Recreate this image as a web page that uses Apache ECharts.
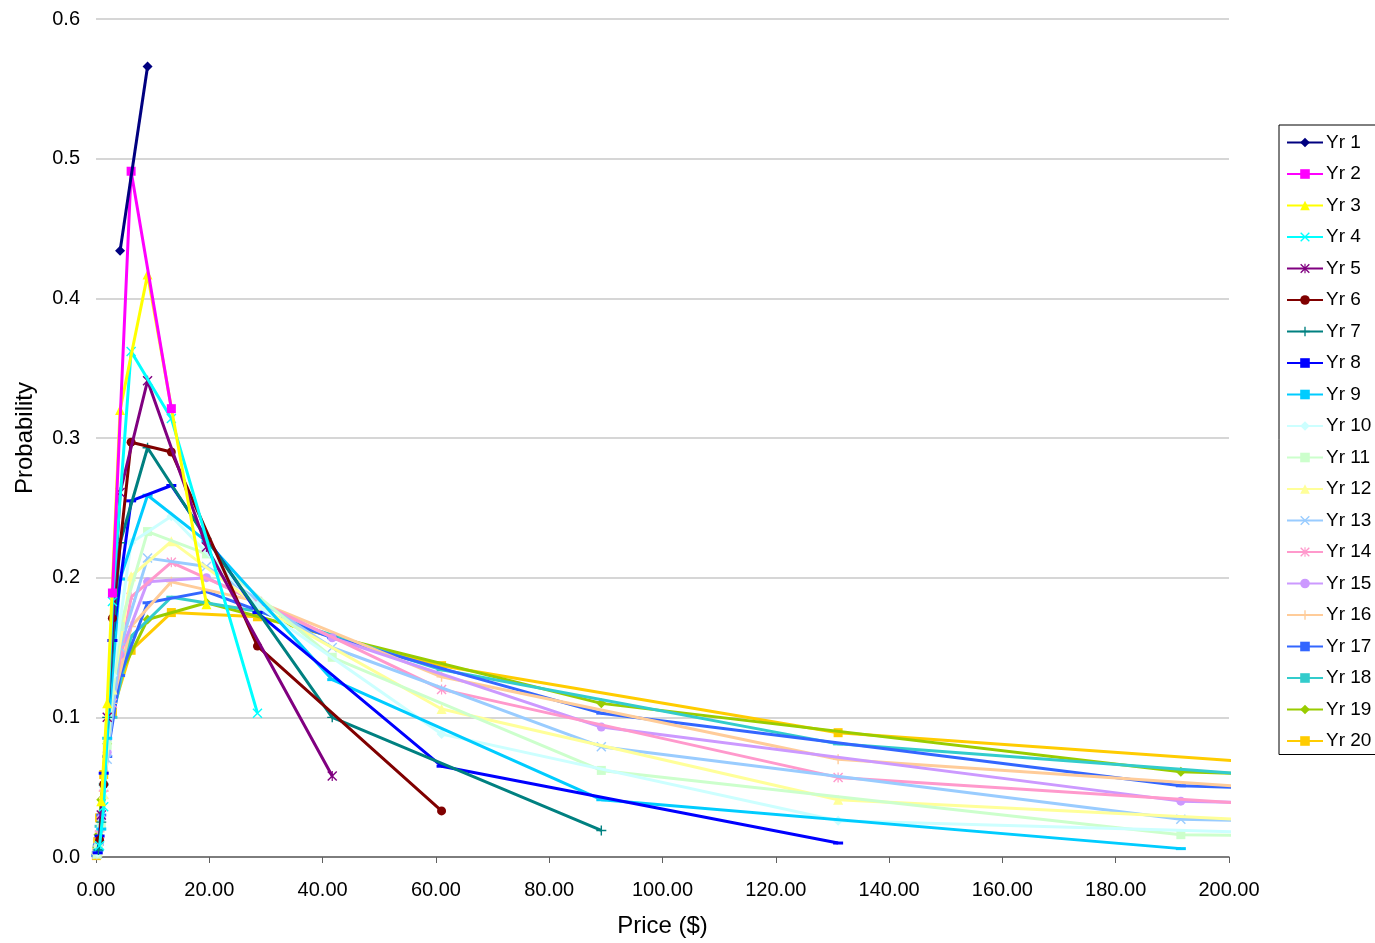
<!DOCTYPE html>
<html>
<head>
<meta charset="utf-8">
<script src="https://cdn.jsdelivr.net/npm/echarts@6/dist/echarts.min.js"></script>
<style>
  html, body { margin: 0; padding: 0; background: #fff; }
  #chart { width: 1375px; height: 943px; }
</style>
</head>
<body>
<div id="chart"></div>
<script>
// price lattices (odd years and even years sit on interleaved grids)
var xOdd  = [0.094, 0.20, 0.43, 0.93, 1.98, 4.25, 9.1, 19.5, 41.7, 89.2, 191.5, 410.8];
var xEven = [0.064, 0.14, 0.30, 0.63, 1.36, 2.9, 6.2, 13.3, 28.5, 61, 131, 281];

var yr1  = [null, null, null, null, null, 0.434, 0.566, null, null, null, null, null];
var yr2  = [null, null, null, null, null, 0.189, 0.491, 0.321, null, null, null, null];
var yr3  = [null, null, null, 0.04, 0.11, 0.320, 0.417, 0.181, null, null, null, null];
var yr4  = [null, null, null, 0.008, 0.036, 0.183, 0.362, 0.314, 0.103, null, null, null];
var yr5  = [null, null, null, 0.03, 0.10, 0.261, 0.341, 0.222, 0.058, null, null, null];
var yr6  = [null, null, null, 0.012, 0.052, 0.171, 0.297, 0.290, 0.151, 0.033, null, null];
var yr7  = [null, null, 0.005, 0.025, 0.10, 0.225, 0.293, 0.228, 0.100, 0.019, null, null];
var yr8  = [null, null, 0.003, 0.015, 0.06, 0.155, 0.255, 0.266, 0.175, 0.065, 0.010, null];
var yr9  = [null, null, 0.005, 0.02, 0.085, 0.199, 0.259, 0.226, 0.127, 0.041, 0.006, null];
var yr10 = [null, null, 0.003, 0.012, 0.05, 0.13, 0.225, 0.244, 0.180, 0.088, 0.026, 0.009];
var yr11 = [null, 0.002, 0.006, 0.022, 0.08, 0.165, 0.233, 0.217, 0.143, 0.062, 0.016, 0.004];
var yr12 = [null, null, 0.004, 0.014, 0.045, 0.12, 0.201, 0.226, 0.180, 0.106, 0.041, 0.011];
var yr13 = [null, 0.002, 0.007, 0.024, 0.07, 0.150, 0.214, 0.208, 0.150, 0.079, 0.027, 0.012];
var yr14 = [null, 0.002, 0.005, 0.016, 0.045, 0.11, 0.186, 0.211, 0.183, 0.120, 0.057, 0.018];
var yr15 = [null, 0.003, 0.008, 0.028, 0.075, 0.145, 0.197, 0.200, 0.157, 0.093, 0.040, 0.018];
var yr16 = [null, 0.002, 0.006, 0.018, 0.047, 0.11, 0.165, 0.197, 0.183, 0.129, 0.070, 0.029];
var yr17 = [0.001, 0.003, 0.009, 0.03, 0.072, 0.13, 0.182, 0.190, 0.157, 0.103, 0.051, 0.025];
var yr18 = [0.001, 0.003, 0.008, 0.022, 0.052, 0.10, 0.158, 0.186, 0.176, 0.134, 0.081, 0.036];
var yr19 = [0.002, 0.007, 0.016, 0.041, 0.081, 0.130, 0.170, 0.182, 0.158, 0.110, 0.061, 0.034];
var yr20 = [0.001, 0.003, 0.011, 0.028, 0.059, 0.104, 0.148, 0.175, 0.172, 0.137, 0.089, 0.046];

var names = ['Yr 1','Yr 2','Yr 3','Yr 4','Yr 5','Yr 6','Yr 7','Yr 8','Yr 9','Yr 10',
             'Yr 11','Yr 12','Yr 13','Yr 14','Yr 15','Yr 16','Yr 17','Yr 18','Yr 19','Yr 20'];
var values = [yr1, yr2, yr3, yr4, yr5, yr6, yr7, yr8, yr9, yr10,
              yr11, yr12, yr13, yr14, yr15, yr16, yr17, yr18, yr19, yr20];
var colors = ['#000080','#FF00FF','#FFFF00','#00FFFF','#800080','#800000','#008080','#0000FF','#00CCFF','#CCFFFF',
              '#CCFFCC','#FFFF99','#99CCFF','#FF99CC','#CC99FF','#FFCC99','#3366FF','#33CCCC','#99CC00','#FFCC00'];

// excel-like markers
var mkX = 'path://M1,0L5,4L9,0L10,1L6,5L10,9L9,10L5,6L1,10L0,9L4,5L0,1Z';
var mkStar = 'path://M1,0L5,4L9,0L10,1L6,5L10,9L9,10L5,6L1,10L0,9L4,5L0,1ZM4.4,0H5.6V10H4.4Z';
var mkPlus = 'path://M4.3,0H5.7V4.3H10V5.7H5.7V10H4.3V5.7H0V4.3H4.3Z';
var mkDash = 'path://M0,0H10V2H0Z';
var markers = ['diamond','rect','triangle',mkX,mkStar,'circle',mkPlus,mkDash,mkDash,'diamond',
               'rect','triangle',mkX,mkStar,'circle',mkPlus,mkDash,mkDash,'diamond','rect'];
var sizes = [10,9,10,10,10,9,10,[10,3],[10,3],10, 9,10,10,10,9,10,[10,3],[10,3],10,9];

var series = [];
for (var i = 0; i < values.length; i++) {
    var xs = (i % 2 == 0) ? xOdd : xEven;
    var pts = [];
    for (var k = 0; k < xs.length; k++) {
        if (values[i][k] != null) pts.push([xs[k], values[i][k]]);
    }
    series.push({
        name: names[i],
        type: 'line',
        data: pts,
        symbol: markers[i],
        symbolSize: sizes[i],
        showAllSymbol: true,
        z: 40 - i,
        lineStyle: { color: colors[i], width: 3 },
        itemStyle: { color: colors[i] },
        emphasis: { disabled: true },
        animation: false
    });
}

var myChart = echarts.init(document.getElementById('chart'));
myChart.setOption({
    animation: false,
    backgroundColor: '#fff',
    textStyle: { fontFamily: 'Liberation Sans, Arial, sans-serif' },
    grid: { left: 96, right: 146, top: 19, bottom: 85 },
    legend: {
        orient: 'vertical',
        left: 1279,
        top: 125,
        data: names,
        borderColor: '#000',
        borderWidth: 1,
        padding: [8, 6, 4, 7],
        itemWidth: 36,
        itemHeight: 12,
        itemGap: 12.5,
        textStyle: { fontSize: 19, color: '#000', padding: [0, 0, 0, -2] },
        selectedMode: false
    },
    xAxis: {
        type: 'value',
        min: 0,
        max: 200,
        interval: 20,
        name: 'Price ($)',
        nameLocation: 'middle',
        nameGap: 57,
        nameTextStyle: { fontSize: 24, color: '#000' },
        axisLine: { show: true, lineStyle: { color: '#606060', width: 1.5 } },
        axisTick: { show: true, length: 6, lineStyle: { color: '#606060' } },
        axisLabel: { fontSize: 20, color: '#000', margin: 23,
            formatter: function (v) { return v.toFixed(2); } },
        splitLine: { show: false }
    },
    yAxis: {
        type: 'value',
        min: 0,
        max: 0.6,
        interval: 0.1,
        name: 'Probability',
        nameLocation: 'middle',
        nameGap: 59,
        nameTextStyle: { fontSize: 24, color: '#000' },
        axisLine: { show: false },
        axisTick: { show: false },
        axisLabel: { fontSize: 20, color: '#000', margin: 16,
            formatter: function (v) { return v.toFixed(1); } },
        splitLine: { show: true, lineStyle: { color: '#c8c8c8', width: 1.5 } }
    },
    series: series
});
</script>
</body>
</html>
